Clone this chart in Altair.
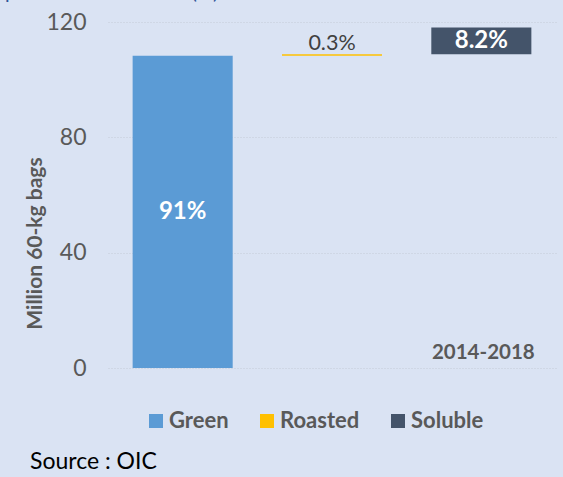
import altair as alt
import pandas as pd

categories = ["Green", "Roasted", "Soluble"]
values = [108.3, 0.5, 9.3]
pct_labels = ["91%", "0.3%", "8.2%"]
colors = ["#5B9BD5", "#FFC000", "#44546A"]
period_label = "2014-2018"

starts = []
acc = 0.0
for v in values:
    starts.append(acc)
    acc += v

df = pd.DataFrame({
    "cat": categories,
    "start": starts,
    "end": [s + v for s, v in zip(starts, values)],
    "label": pct_labels,
})
df["mid"] = (df["start"] + df["end"]) / 2
df["labely"] = [df["mid"][0], df["end"][1] + 3.6, df["mid"][2]]
df["labelcolor"] = ["white", "#404040", "white"]
df["labelweight"] = ["bold", "normal", "bold"]

FONT = "Lato"
xenc = alt.X("cat:N", sort=categories, axis=None,
             scale=alt.Scale(paddingInner=0.33, paddingOuter=0.165))
yscale = alt.Scale(domain=[0, 120])

bars = alt.Chart(df).mark_bar().encode(
    x=xenc,
    y=alt.Y("start:Q", scale=yscale,
            axis=alt.Axis(values=[0, 40, 80, 120], title="Million 60-kg bags",
                          labelFontSize=23, labelColor="#595959", labelFont=FONT,
                          labelPadding=22, tickSize=0, domain=False,
                          grid=True, gridColor="#c4cad6", gridDash=[1, 2],
                          titleFontSize=21, titleFontWeight="bold", titleColor="#595959",
                          titleFont=FONT, titleX=-73, titleY=221, titleAngle=270,
                          titleAlign="center", titleBaseline="middle")),
    y2="end:Q",
    color=alt.Color("cat:N", sort=categories,
                    scale=alt.Scale(domain=categories, range=colors),
                    legend=alt.Legend(title=None, orient="none", direction="horizontal",
                                      legendX=37, legendY=388, columns=3,
                                      columnPadding=27, symbolType="square",
                                      symbolSize=196, symbolStrokeWidth=0,
                                      labelFontSize=22, labelFontWeight="bold",
                                      labelColor="#595959", labelFont=FONT,
                                      labelOffset=2, symbolOpacity=1)),
)

labels_bold = alt.Chart(df).mark_text(fontSize=24, font=FONT, baseline="middle",
                                      fontWeight="bold").encode(
    x=xenc,
    y=alt.Y("labely:Q", scale=yscale),
    text="label:N",
    color=alt.Color("labelcolor:N", scale=None),
).transform_filter(alt.datum.labelweight == "bold")

labels_norm = alt.Chart(df).mark_text(fontSize=21.5, font=FONT, baseline="middle",
                                      fontWeight="normal").encode(
    x=xenc,
    y=alt.Y("labely:Q", scale=yscale),
    text="label:N",
    color=alt.Color("labelcolor:N", scale=None),
).transform_filter(alt.datum.labelweight == "normal")

period = alt.Chart(pd.DataFrame({"cat": ["Soluble"], "y": [5.2], "t": [period_label]})).mark_text(
    fontSize=20.5, font=FONT, fontWeight="bold", color="#595959", baseline="middle", dx=2
).encode(x=xenc, y=alt.Y("y:Q", scale=yscale), text="t:N")

source = alt.Chart(pd.DataFrame({"t": ["Source : OIC"]})).mark_text(
    fontSize=23, font=FONT, color="#000000", align="left", baseline="middle"
).encode(x=alt.value(-78), y=alt.value(440), text="t:N")

head = alt.Chart(pd.DataFrame({"t": ["production mondiale (%)"]})).mark_text(
    fontSize=20, font=FONT, color="#2F5597", align="left", baseline="alphabetic"
).encode(x=alt.value(-103), y=alt.value(-23), text="t:N")

chart = alt.layer(bars, labels_bold, labels_norm, period, source, head).properties(
    width=448, height=346,
    autosize=alt.AutoSizeParams(type="none"),
    padding={"left": 108, "top": 22, "right": 7, "bottom": 109},
    background="#DAE3F3",
).configure_view(stroke=None)

chart.save("out.html", embed_options={"renderer": "svg", "actions": False})
